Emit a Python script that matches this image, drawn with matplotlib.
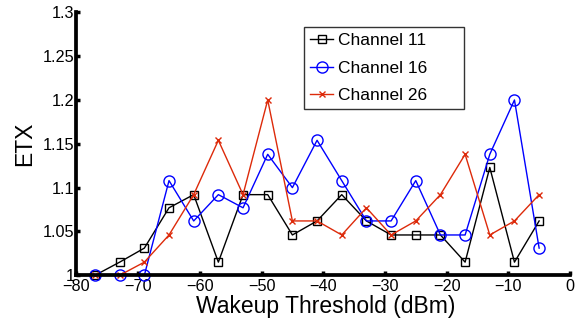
import matplotlib
matplotlib.use("Agg")
import matplotlib.pyplot as plt

plt.rcParams['font.family'] = ['Liberation Sans', 'DejaVu Sans']

thresholds = [-77, -73, -69, -65, -61, -57, -53, -49, -45, -41, -37, -33, -29, -25, -21, -17, -13, -9, -5]
ch11 = [1.0, 1.015, 1.031, 1.077, 1.092, 1.015, 1.092, 1.092, 1.046, 1.062, 1.092, 1.062, 1.046, 1.046, 1.046, 1.015, 1.123, 1.015, 1.062]
ch16 = [1.0, 1.0, 1.0, 1.108, 1.062, 1.092, 1.077, 1.138, 1.100, 1.154, 1.108, 1.062, 1.062, 1.108, 1.046, 1.046, 1.138, 1.200, 1.031]
ch26 = [1.0, 1.0, 1.015, 1.046, 1.092, 1.154, 1.092, 1.200, 1.062, 1.062, 1.046, 1.077, 1.046, 1.062, 1.092, 1.138, 1.046, 1.062, 1.092]
labels = ['Channel 11', 'Channel 16', 'Channel 26']
xticks = [-80, -70, -60, -50, -40, -30, -20, -10, 0]
yticks = [1, 1.05, 1.1, 1.15, 1.2, 1.25, 1.3]
yticklabels = ['1', '1.05', '1.1', '1.15', '1.2', '1.25', '1.3']

fig = plt.figure(figsize=(5.87, 3.23), dpi=100)
ax = fig.add_axes([0.1303, 0.1477, 0.8407, 0.8142])

ax.plot(thresholds, ch11, color='black', marker='s', markersize=6, markerfacecolor='none',
        markeredgewidth=1.0, linewidth=1.0, label=labels[0], clip_on=False)
ax.plot(thresholds, ch16, color='#0000ff', marker='o', markersize=8, markerfacecolor='none',
        markeredgewidth=1.0, linewidth=1.0, label=labels[1], clip_on=False)
ax.plot(thresholds, ch26, color='#dd2a0a', marker='x', markersize=5, markeredgewidth=1.0,
        linewidth=1.0, label=labels[2], clip_on=False)

ax.set_xlim(-80, 0)
ax.set_ylim(1, 1.3)
ax.set_xticks(xticks)
ax.set_xticklabels(['\u2212%d' % abs(v) if v < 0 else '%d' % v for v in xticks])
ax.set_yticks(yticks)
ax.set_yticklabels(yticklabels)

for s in ['top', 'right']:
    ax.spines[s].set_visible(False)
for s in ['left', 'bottom']:
    ax.spines[s].set_linewidth(2.7)
ax.tick_params(direction='in', length=3, width=2.5, labelsize=11.7)
ax.tick_params(axis='y', pad=1.5)
ax.tick_params(axis='x', pad=3)

ax.set_xlabel('Wakeup Threshold (dBm)', fontsize=16.5)
ax.xaxis.set_label_coords(0.505, -0.074)
ax.set_ylabel('ETX', fontsize=16.5, labelpad=5)

leg = ax.legend(loc='upper left', bbox_to_anchor=(0.461, 0.6285, 0.325, 0.3165), mode='expand',
                fontsize=12.5, frameon=True, fancybox=False, handlelength=1.35,
                handletextpad=0.25, borderpad=0.35, labelspacing=0.72, borderaxespad=0)
leg.get_frame().set_edgecolor('black')
leg.get_frame().set_linewidth(1.0)

fig.savefig('out.png', dpi=100)
